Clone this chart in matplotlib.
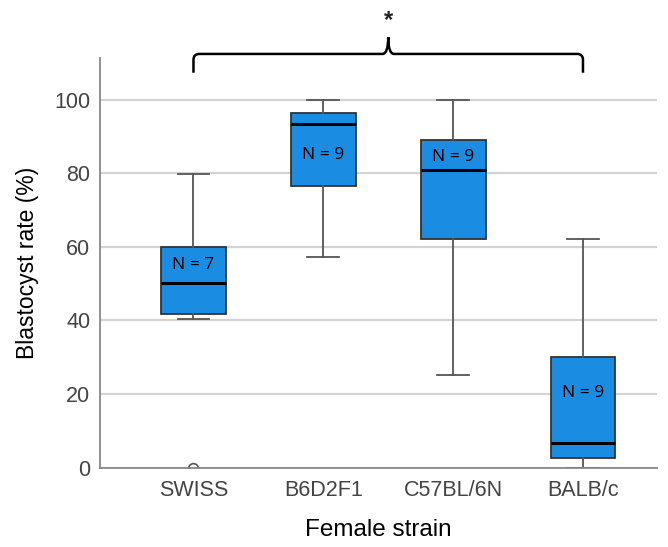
import numpy as np
import matplotlib
matplotlib.use('Agg')
import matplotlib.pyplot as plt
from matplotlib.path import Path
from matplotlib.patches import PathPatch

# valores
strains = ['SWISS', 'B6D2F1', 'C57BL/6N', 'BALB/c']
whislo = [40.3, 57.3, 25.2, 0.0]
q1 = [41.8, 76.4, 62.1, 2.7]
med = [50.3, 93.5, 80.8, 6.6]
q3 = [60.0, 96.3, 88.9, 30.1]
whishi = [79.7, 100.0, 100.0, 62.1]
fliers = [[0.0], [], [], []]
n_obs = [7, 9, 9, 9]
n_label_y = [55, 85, 84.5, 20.3]

plt.rcParams['font.family'] = ['Liberation Sans', 'DejaVu Sans']

fig = plt.figure(figsize=(6.68, 5.47), dpi=100)
ax = fig.add_axes([0.1497, 0.145, 0.8338, 0.749])

stats = []
for i in range(len(strains)):
    stats.append(dict(label=strains[i], whislo=whislo[i], q1=q1[i], med=med[i],
                      q3=q3[i], whishi=whishi[i], fliers=fliers[i]))

pos = np.arange(1, len(strains) + 1)
ax.bxp(stats, positions=pos, widths=0.5, patch_artist=True, showfliers=True,
       boxprops=dict(facecolor='#1a8de3', edgecolor='#333333', linewidth=1.3),
       medianprops=dict(color='black', linewidth=2.2),
       whiskerprops=dict(color='#555555', linewidth=1.3),
       capprops=dict(color='#555555', linewidth=1.3),
       capwidths=0.245,
       flierprops=dict(marker='o', markerfacecolor='none', markeredgecolor='#555555',
                       markersize=7, markeredgewidth=1.2))

for p, n, y in zip(pos, n_obs, n_label_y):
    ax.text(p, y, f'N = {n}', ha='center', va='center', fontsize=12.5,
            family=['Open Sans', 'DejaVu Sans'], color='black')

ax.set_xlim(0.28, 4.57)
ax.set_ylim(0, 111.3)
ax.set_yticks([0, 20, 40, 60, 80, 100])
ax.yaxis.grid(True, color='#d3d3d3', linewidth=1.6)
ax.set_axisbelow(True)
ax.tick_params(length=0, labelsize=15.5, labelcolor='#444444')
ax.tick_params(axis='y', pad=7)
ax.tick_params(axis='x', pad=9)
for s in ['top', 'right']:
    ax.spines[s].set_visible(False)
for s in ['left', 'bottom']:
    ax.spines[s].set_color('#888888')
    ax.spines[s].set_linewidth(1.3)

ax.set_ylabel('Blastocyst rate (%)', fontsize=16.5, labelpad=11)
ax.set_xlabel('Female strain', fontsize=17.5, labelpad=13)

# chave de significância
x0, x1 = pos[0], pos[-1]
xm = (x0 + x1) / 2
yb, yh, yt = 107.3, 112.4, 117.0
dx, dy = 0.045, 1.6
verts = [(x0, yb), (x0, yh - dy), (x0, yh), (x0 + dx, yh),
         (xm - dx, yh), (xm, yh), (xm, yt),
         (xm, yh), (xm + dx, yh),
         (x1 - dx, yh), (x1, yh), (x1, yh - dy), (x1, yb)]
codes = [Path.MOVETO, Path.LINETO, Path.CURVE3, Path.CURVE3,
         Path.LINETO, Path.CURVE3, Path.CURVE3,
         Path.CURVE3, Path.CURVE3,
         Path.LINETO, Path.CURVE3, Path.CURVE3, Path.LINETO]
ax.add_patch(PathPatch(Path(verts, codes), facecolor='none', edgecolor='black',
                       linewidth=1.8, clip_on=False))
ax.text(xm, 121.5, '*', ha='center', va='center', fontsize=17,
        fontweight='bold', color='#222222')

fig.savefig('out.png', dpi=100)
